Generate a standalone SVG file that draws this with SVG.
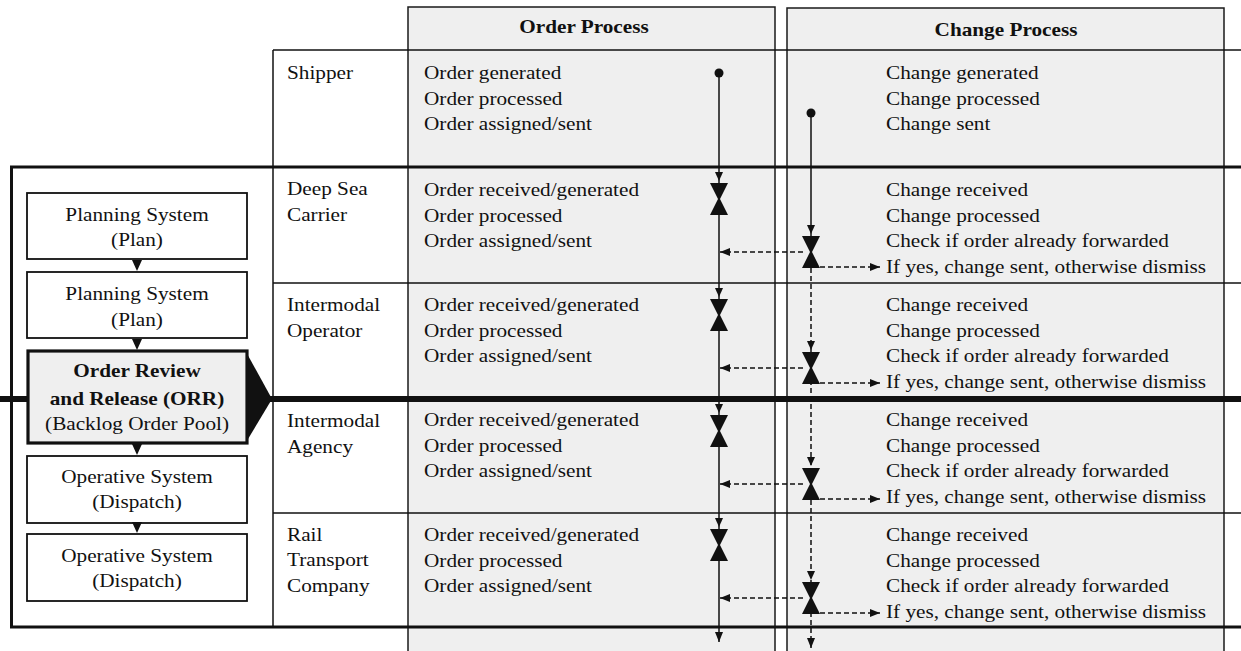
<svg xmlns="http://www.w3.org/2000/svg" width="1241" height="651" viewBox="0 0 1241 651">
<style>
.t{font-family:"Liberation Serif","Times New Roman",serif;font-size:18px;fill:#111}
.b{font-weight:bold}
.m{text-anchor:middle}
.col{fill:#efefef;stroke:#1a1a1a;stroke-width:1.5}
.box{fill:#ffffff;stroke:#111;stroke-width:1.8}
.orr{fill:#efefef;stroke:#111;stroke-width:3.2}
.thin{stroke:#111;stroke-width:1.5;fill:none}
.frame{stroke:#111;stroke-width:3;fill:none}
.heavy{stroke:#111;stroke-width:6;fill:none}
.solid{stroke:#111;stroke-width:1.5;fill:none}
.dash{stroke:#111;stroke-width:1.5;fill:none;stroke-dasharray:5 3}
.k{fill:#111}
</style>
<defs>
<path id="ah" d="M-4,-9 L4,-9 L0,0 Z"/>
<path id="hg" d="M-9,-16 L9,-16 L1,0 L9,16 L-9,16 L-1,0 Z"/>
<path id="tri" d="M-5,-11 L5,-11 L0,0 Z"/>
<marker id="arr" viewBox="0 0 10 8" refX="10" refY="4" markerUnits="userSpaceOnUse" markerWidth="11" markerHeight="8" orient="auto">
<path d="M0,0 L10,4 L0,8 Z" fill="#111"/>
</marker>
</defs>

<g id="columns">
<rect class="col" x="408" y="7" width="367" height="660"/>
<rect class="col" x="787" y="8" width="437" height="660"/>
<text class="t b m" transform="matrix(1.18,0,0,1,584,33)">Order Process</text>
<text class="t b m" transform="matrix(1.18,0,0,1,1006,36)">Change Process</text>
</g>

<g id="grid">
<line class="thin" x1="273" y1="50" x2="1241" y2="50"/>
<line class="thin" x1="273" y1="50" x2="273" y2="627"/>
<line class="thin" x1="273" y1="283" x2="1241" y2="283"/>
<line class="thin" x1="273" y1="513" x2="1241" y2="513"/>
<line class="frame" x1="10" y1="167" x2="1241" y2="167"/>
<line class="frame" x1="11.5" y1="167" x2="11.5" y2="627"/>
<line class="frame" x1="10" y1="627" x2="1241" y2="627"/>
<line class="heavy" x1="0" y1="399" x2="1241" y2="399"/>
</g>

<g id="row-shipper">
<text class="t" transform="matrix(1.18,0,0,1,287,79)">Shipper</text>
<text class="t" transform="matrix(1.18,0,0,1,424,79)">Order generated</text>
<text class="t" transform="matrix(1.18,0,0,1,424,104.5)">Order processed</text>
<text class="t" transform="matrix(1.18,0,0,1,424,130)">Order assigned/sent</text>
<text class="t" transform="matrix(1.18,0,0,1,886,79)">Change generated</text>
<text class="t" transform="matrix(1.18,0,0,1,886,104.5)">Change processed</text>
<text class="t" transform="matrix(1.18,0,0,1,886,130)">Change sent</text>
</g>

<g id="row-deepsea">
<text class="t" transform="matrix(1.18,0,0,1,287,195)">Deep Sea</text>
<text class="t" transform="matrix(1.18,0,0,1,287,221)">Carrier</text>
<text class="t" transform="matrix(1.18,0,0,1,424,196)">Order received/generated</text>
<text class="t" transform="matrix(1.18,0,0,1,424,221.5)">Order processed</text>
<text class="t" transform="matrix(1.18,0,0,1,424,247)">Order assigned/sent</text>
<text class="t" transform="matrix(1.18,0,0,1,886,196)">Change received</text>
<text class="t" transform="matrix(1.18,0,0,1,886,221.5)">Change processed</text>
<text class="t" transform="matrix(1.18,0,0,1,886,247)">Check if order already forwarded</text>
<text class="t" transform="matrix(1.18,0,0,1,886,272.5)">If yes, change sent, otherwise dismiss</text>
</g>

<g id="row-operator">
<text class="t" transform="matrix(1.18,0,0,1,287,311)">Intermodal</text>
<text class="t" transform="matrix(1.18,0,0,1,287,337)">Operator</text>
<text class="t" transform="matrix(1.18,0,0,1,424,311)">Order received/generated</text>
<text class="t" transform="matrix(1.18,0,0,1,424,336.5)">Order processed</text>
<text class="t" transform="matrix(1.18,0,0,1,424,362)">Order assigned/sent</text>
<text class="t" transform="matrix(1.18,0,0,1,886,311)">Change received</text>
<text class="t" transform="matrix(1.18,0,0,1,886,336.5)">Change processed</text>
<text class="t" transform="matrix(1.18,0,0,1,886,362)">Check if order already forwarded</text>
<text class="t" transform="matrix(1.18,0,0,1,886,387.5)">If yes, change sent, otherwise dismiss</text>
</g>

<g id="row-agency">
<text class="t" transform="matrix(1.18,0,0,1,287,427)">Intermodal</text>
<text class="t" transform="matrix(1.18,0,0,1,287,453)">Agency</text>
<text class="t" transform="matrix(1.18,0,0,1,424,426)">Order received/generated</text>
<text class="t" transform="matrix(1.18,0,0,1,424,451.5)">Order processed</text>
<text class="t" transform="matrix(1.18,0,0,1,424,477)">Order assigned/sent</text>
<text class="t" transform="matrix(1.18,0,0,1,886,426)">Change received</text>
<text class="t" transform="matrix(1.18,0,0,1,886,451.5)">Change processed</text>
<text class="t" transform="matrix(1.18,0,0,1,886,477)">Check if order already forwarded</text>
<text class="t" transform="matrix(1.18,0,0,1,886,502.5)">If yes, change sent, otherwise dismiss</text>
</g>

<g id="row-rail">
<text class="t" transform="matrix(1.18,0,0,1,287,541)">Rail</text>
<text class="t" transform="matrix(1.18,0,0,1,287,566)">Transport</text>
<text class="t" transform="matrix(1.18,0,0,1,287,592)">Company</text>
<text class="t" transform="matrix(1.18,0,0,1,424,541)">Order received/generated</text>
<text class="t" transform="matrix(1.18,0,0,1,424,566.5)">Order processed</text>
<text class="t" transform="matrix(1.18,0,0,1,424,592)">Order assigned/sent</text>
<text class="t" transform="matrix(1.18,0,0,1,886,541)">Change received</text>
<text class="t" transform="matrix(1.18,0,0,1,886,566.5)">Change processed</text>
<text class="t" transform="matrix(1.18,0,0,1,886,592)">Check if order already forwarded</text>
<text class="t" transform="matrix(1.18,0,0,1,886,617.5)">If yes, change sent, otherwise dismiss</text>
</g>

<g id="planning1">
<rect class="box" x="27" y="193" width="220" height="66"/>
<text class="t m" transform="matrix(1.18,0,0,1,137,221)">Planning System</text>
<text class="t m" transform="matrix(1.18,0,0,1,137,246)">(Plan)</text>
</g>
<g id="planning2">
<rect class="box" x="27" y="272" width="220" height="66"/>
<text class="t m" transform="matrix(1.18,0,0,1,137,300)">Planning System</text>
<text class="t m" transform="matrix(1.18,0,0,1,137,326)">(Plan)</text>
</g>
<g id="orr">
<polygon class="k" points="245,350 272,399 245,444"/>
<rect class="orr" x="28" y="351" width="219" height="92"/>
<text class="t b m" transform="matrix(1.18,0,0,1,137,377)">Order Review</text>
<text class="t b m" transform="matrix(1.18,0,0,1,137,405)">and Release (ORR)</text>
<text class="t m" transform="matrix(1.18,0,0,1,137,430)">(Backlog Order Pool)</text>
</g>
<g id="operative1">
<rect class="box" x="27" y="456" width="220" height="67"/>
<text class="t m" transform="matrix(1.18,0,0,1,137,483)">Operative System</text>
<text class="t m" transform="matrix(1.18,0,0,1,137,508)">(Dispatch)</text>
</g>
<g id="operative2">
<rect class="box" x="27" y="534" width="220" height="67"/>
<text class="t m" transform="matrix(1.18,0,0,1,137,562)">Operative System</text>
<text class="t m" transform="matrix(1.18,0,0,1,137,587)">(Dispatch)</text>
</g>

<g id="connectors">
<use href="#tri" class="k" x="137" y="271"/>
<use href="#tri" class="k" x="137" y="350"/>
<use href="#tri" class="k" x="137" y="455"/>
<use href="#tri" class="k" x="137" y="533"/>

<circle class="k" cx="719" cy="73" r="4.5"/>
<path class="solid" d="M719,73 V642" marker-end="url(#arr)"/>
<use href="#ah" class="k" x="719" y="181"/>
<use href="#hg" class="k" x="719" y="199"/>
<use href="#ah" class="k" x="719" y="297"/>
<use href="#hg" class="k" x="719" y="315"/>
<use href="#ah" class="k" x="719" y="413"/>
<use href="#hg" class="k" x="719" y="431"/>
<use href="#ah" class="k" x="719" y="527"/>
<use href="#hg" class="k" x="719" y="545"/>

<circle class="k" cx="811" cy="113" r="4.5"/>
<path class="solid" d="M811,113 V236"/>
<path class="dash" d="M811,268 V648" marker-end="url(#arr)"/>
<use href="#ah" class="k" x="811" y="234"/>
<use href="#hg" class="k" x="811" y="252"/>
<use href="#ah" class="k" x="811" y="350"/>
<use href="#hg" class="k" x="811" y="368"/>
<use href="#ah" class="k" x="811" y="466"/>
<use href="#hg" class="k" x="811" y="484"/>
<use href="#ah" class="k" x="811" y="580"/>
<use href="#hg" class="k" x="811" y="598"/>

<path class="dash" d="M803,252 H720" marker-end="url(#arr)"/>
<path class="dash" d="M803,368 H720" marker-end="url(#arr)"/>
<path class="dash" d="M803,484 H720" marker-end="url(#arr)"/>
<path class="dash" d="M803,598 H720" marker-end="url(#arr)"/>
<path class="dash" d="M820,267 H880" marker-end="url(#arr)"/>
<path class="dash" d="M820,383 H880" marker-end="url(#arr)"/>
<path class="dash" d="M820,499 H880" marker-end="url(#arr)"/>
<path class="dash" d="M820,613 H880" marker-end="url(#arr)"/>
</g>
</svg>
